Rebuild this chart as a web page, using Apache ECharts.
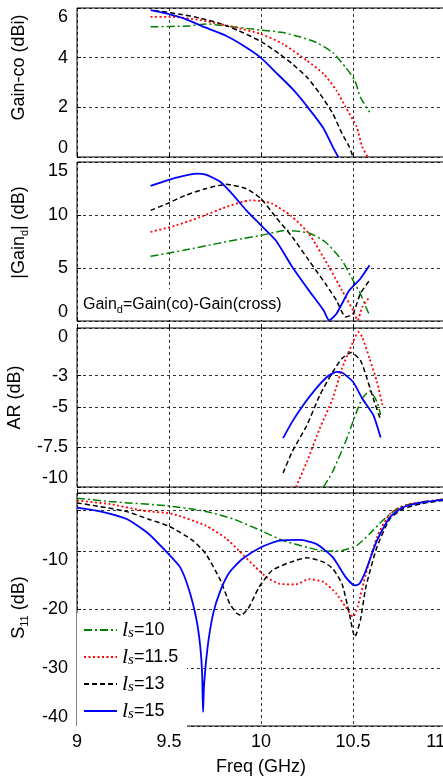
<!DOCTYPE html>
<html>
<head>
<meta charset="utf-8">
<script src="https://cdn.jsdelivr.net/npm/echarts@6/dist/echarts.min.js"></script>
<style>
html,body{margin:0;padding:0;background:#fff}
#chart{width:443px;height:780px}
</style>
</head>
<body>
<div id="chart"></div>
<script>
var myChart = echarts.init(document.getElementById('chart'));

// legend / series names
var seriesNames = ['l_s=10', 'l_s=11.5', 'l_s=13', 'l_s=15'];
var lsValues = ['10', '11.5', '13', '15'];

// Gain-co (dBi)
var gainCo10 = [[9.40,5.24],[9.61,5.28],[9.70,5.36],[9.76,5.32],[10.0,5.11],[10.12,5.01],[10.21,4.84],[10.30,4.61],[10.39,4.21],[10.46,3.61],[10.51,3.08],[10.54,2.41],[10.59,1.81]];
var gainCo115 = [[9.40,5.64],[9.52,5.64],[9.67,5.51],[9.85,5.24],[10.0,4.95],[10.12,4.55],[10.25,3.88],[10.34,3.35],[10.41,2.68],[10.46,2.01],[10.52,1.21],[10.55,0.41],[10.58,0.0]];
var gainCo13 = [[9.42,5.9],[9.56,5.75],[9.67,5.59],[9.78,5.37],[9.88,5.08],[10.0,4.65],[10.10,4.15],[10.17,3.75],[10.25,3.21],[10.32,2.55],[10.39,1.75],[10.44,0.95],[10.48,0.41],[10.50,0.0]];
var gainCo15 = [[9.40,5.91],[9.49,5.77],[9.59,5.55],[9.70,5.21],[9.81,4.88],[9.92,4.41],[10.0,3.99],[10.08,3.41],[10.17,2.75],[10.26,1.95],[10.34,1.15],[10.39,0.41],[10.42,0.0]];

// |Gain_d| (dB)
var gainD10 = [[9.40,6.1],[9.58,6.67],[9.76,7.3],[9.90,7.77],[10.0,8.08],[10.14,8.55],[10.26,8.3],[10.35,7.45],[10.44,5.72],[10.50,3.84],[10.54,2.58],[10.57,1.32],[10.59,0.53]];
var gainD115 = [[9.40,8.4],[9.54,9.03],[9.67,9.81],[9.81,10.75],[9.94,11.38],[10.0,11.32],[10.06,11.07],[10.16,9.97],[10.26,8.24],[10.37,5.09],[10.44,2.89],[10.50,1.01],[10.525,0.06],[10.55,1.32],[10.59,2.26]];
var gainD13 = [[9.40,10.44],[9.49,11.07],[9.59,11.86],[9.70,12.48],[9.81,12.89],[9.92,12.48],[10.0,11.54],[10.08,9.81],[10.17,7.92],[10.26,5.72],[10.35,3.52],[10.41,1.95],[10.46,0.38],[10.50,0.69],[10.54,2.58],[10.59,3.84]];
var gainD15 = [[9.40,12.74],[9.49,13.27],[9.58,13.68],[9.65,13.9],[9.70,13.8],[9.78,13.11],[9.85,11.86],[9.92,10.44],[10.0,9.03],[10.08,7.61],[10.17,5.09],[10.26,2.89],[10.34,1.01],[10.37,0.06],[10.41,0.69],[10.48,2.89],[10.54,3.99],[10.59,5.25]];

// AR (dB)
var ar10 = [[10.34,-10],[10.39,-9.02],[10.46,-7.14],[10.52,-5.26],[10.55,-4.43],[10.59,-3.97],[10.63,-4.63],[10.65,-5.47]];
var ar115 = [[10.19,-10],[10.25,-8.39],[10.32,-6.3],[10.39,-4.43],[10.44,-2.55],[10.50,-0.88],[10.53,-0.25],[10.55,-0.56],[10.59,-1.92],[10.63,-3.38],[10.66,-4.84]];
var ar13 = [[10.12,-9.12],[10.17,-7.77],[10.25,-6.1],[10.32,-4.22],[10.39,-2.76],[10.44,-1.92],[10.49,-1.54],[10.54,-2.03],[10.57,-2.96],[10.61,-4.43],[10.65,-5.78]];
var ar15 = [[10.12,-6.93],[10.17,-5.89],[10.23,-4.84],[10.30,-3.8],[10.36,-3.07],[10.41,-2.76],[10.44,-2.8],[10.50,-3.38],[10.55,-4.43],[10.61,-5.47],[10.65,-6.89]];

// S11 (dB)
var s11_10 = [[9.0,-0.9],[9.21,-1.55],[9.49,-2.19],[9.70,-3.16],[9.85,-4.47],[10.0,-6.45],[10.12,-8.17],[10.25,-9.31],[10.35,-9.99],[10.44,-9.88],[10.52,-9.02],[10.59,-7.03],[10.66,-4.76],[10.75,-2.47],[10.86,-1.62],[11.0,-1.05]];
var s11_115 = [[9.0,-1.3],[9.18,-1.9],[9.36,-3.04],[9.52,-3.6],[9.70,-5.61],[9.81,-7.8],[9.88,-9.9],[9.97,-12.73],[10.03,-14.44],[10.10,-15.58],[10.19,-15.69],[10.26,-14.78],[10.34,-15.3],[10.41,-17.29],[10.46,-19.57],[10.50,-21.27],[10.525,-19.57],[10.57,-13.87],[10.63,-7.6],[10.70,-3.61],[10.79,-2.02],[10.90,-1.45],[11.0,-1.05]];
var s11_13 = [[9.0,-1.7],[9.12,-2.3],[9.27,-3.2],[9.39,-4.5],[9.50,-5.7],[9.63,-8.17],[9.70,-10.45],[9.78,-15.01],[9.83,-19.0],[9.87,-20.7],[9.89,-21.0],[9.93,-19.85],[9.99,-16.15],[10.06,-13.3],[10.16,-11.87],[10.25,-11.13],[10.34,-11.87],[10.39,-13.01],[10.44,-15.58],[10.48,-20.7],[10.51,-24.7],[10.54,-21.84],[10.57,-16.15],[10.63,-9.31],[10.70,-4.47],[10.77,-2.76],[10.88,-1.79],[11.0,-1.22]];
var s11_15 = [[9.0,-2.5],[9.12,-3.1],[9.27,-4.47],[9.39,-7.03],[9.48,-9.9],[9.56,-12.73],[9.61,-16.72],[9.65,-21.84],[9.67,-26.4],[9.68,-30.96],[9.685,-37.6],[9.69,-33.24],[9.71,-26.4],[9.74,-20.7],[9.78,-16.72],[9.83,-13.58],[9.90,-11.3],[10.0,-9.31],[10.10,-8.17],[10.21,-8.06],[10.30,-8.74],[10.39,-11.02],[10.46,-14.44],[10.51,-15.87],[10.535,-15.58],[10.57,-13.3],[10.63,-8.17],[10.70,-4.18],[10.77,-2.47],[10.88,-1.61],[11.0,-1.16]];

// tick values
var gainCoTicks = [0, 2, 4, 6];
var gainDTicks = [0, 5, 10, 15];
var arTicks = [-10, -7.5, -5, -3, 0];
var s11Ticks = [-40, -30, -20, -10, -3, 0];
var s11Labels = [-40, -30, -20, -10];

var panels = [
    {data: [gainCo10, gainCo115, gainCo13, gainCo15], min: 0, max: 6, ticks: gainCoTicks, labels: gainCoTicks,
     name: 'Gain-co (dBi)', pad: [0, 0, 0, 30], top: 8, height: 149},
    {data: [gainD10, gainD115, gainD13, gainD15], min: 0, max: 15, ticks: gainDTicks, labels: gainDTicks,
     name: '|Gain{sub|d}| (dB)', pad: [0, 0, 0, 18], top: 162, height: 159},
    {data: [ar10, ar115, ar13, ar15], min: -10, max: 0, ticks: arTicks, labels: arTicks,
     name: 'AR (dB)', pad: [0, 0, 0, 20], top: 328, height: 159},
    {data: [s11_10, s11_115, s11_13, s11_15], min: -40, max: 0, ticks: s11Ticks, labels: s11Labels,
     name: 'S{sub|11} (dB)', pad: [0, 0, 0, 4], top: 493, height: 233}
];

var colors = ['#008000', '#ff0000', '#000000', '#0000ff'];
var dashes = [[8, 3, 2, 3], [2, 2.5], [5, 3], 'solid'];
var widths = [1.5, 1.8, 1.5, 1.8];

var FONT = '"Liberation Sans", Arial, sans-serif';
var SERIF = '"Liberation Serif", "Times New Roman", serif';
var gridDash = {color: '#000', width: 0.8, type: [3, 3]};

var grids = [], xAxes = [], yAxes = [], series = [];
panels.forEach(function(p, i){
    grids.push({left: 77, width: 368, top: p.top, height: p.height, show: true, outerBoundsMode: 'none',
                containLabel: false, borderColor: '#000', borderWidth: 1, backgroundColor: '#fff'});
    xAxes.push({
        type: 'value', gridIndex: i, min: 9, max: 11, interval: 0.5,
        axisLine: {show: false},
        axisTick: {show: true, inside: true, length: 4, lineStyle: {color: '#000'}},
        splitLine: {show: true, lineStyle: gridDash},
        axisLabel: {show: i === 3, color: '#000', fontSize: 18, fontFamily: FONT, margin: 7, alignMaxLabel: 'right'},
        name: i === 3 ? 'Freq (GHz)' : '', nameLocation: 'middle', nameGap: 32,
        nameTextStyle: {color: '#000', fontSize: 18, fontFamily: FONT}
    });
    yAxes.push({
        type: 'value', gridIndex: i, min: p.min, max: p.max,
        axisLine: {show: false},
        axisTick: {show: true, inside: true, length: 4, customValues: p.ticks, lineStyle: {color: '#000'}},
        splitLine: {show: true, lineStyle: gridDash},
        axisLabel: {color: '#000', fontSize: 18, fontFamily: FONT, margin: 9, customValues: p.labels,
                    verticalAlignMinLabel: 'bottom', verticalAlignMaxLabel: 'top'},
        name: p.name, nameLocation: 'middle', nameRotate: 90, nameGap: 47,
        nameTextStyle: {color: '#000', fontSize: 18, fontFamily: FONT, padding: p.pad, lineHeight: 22,
                        rich: {sub: {fontSize: 11, fontFamily: FONT, verticalAlign: 'bottom', lineHeight: 14}}}
    });
    p.data.forEach(function(d, k){
        series.push({
            type: 'line', name: seriesNames[k], xAxisIndex: i, yAxisIndex: i,
            data: d, showSymbol: false, symbol: 'none', smooth: 0.2,
            lineStyle: {color: colors[k], width: widths[k], type: dashes[k]},
            itemStyle: {color: colors[k]},
            z: k === 3 ? 4 : 3
        });
    });
});

myChart.setOption({
    animation: false,
    grid: grids,
    xAxis: xAxes,
    yAxis: yAxes,
    series: series,
    legend: {
        data: seriesNames, orient: 'vertical', left: 77, top: 613,
        padding: [6, 9, 6, 6], itemGap: 5, itemWidth: 33, itemHeight: 14,
        backgroundColor: '#fff', selectedMode: false,
        itemStyle: {opacity: 0},
        formatter: function(name){
            return '{l|l}{s|s}{t|=' + lsValues[seriesNames.indexOf(name)] + '}';
        },
        textStyle: {
            color: '#000',
            rich: {
                l: {fontFamily: SERIF, fontStyle: 'italic', fontSize: 22, lineHeight: 22, color: '#000'},
                s: {fontFamily: SERIF, fontStyle: 'italic', fontSize: 15, lineHeight: 15, verticalAlign: 'bottom', color: '#000'},
                t: {fontFamily: FONT, fontSize: 18, lineHeight: 22, color: '#000'}
            }
        }
    },
    graphic: [
        {type: 'rect', left: 78, top: 289, shape: {width: 218, height: 31}, style: {fill: '#fff'}, z: 10},
        {type: 'text', left: 83, top: 295, z: 11, style: {
            text: 'Gain{d|d}=Gain(co)-Gain(cross)', fill: '#000', fontSize: 16, fontFamily: FONT, lineHeight: 20,
            rich: {d: {fontSize: 11, fontFamily: FONT, verticalAlign: 'bottom', lineHeight: 12, fill: '#000'}}
        }}
    ]
});

window.onresize = function(){
    myChart.resize();
};
</script>
</body>
</html>
